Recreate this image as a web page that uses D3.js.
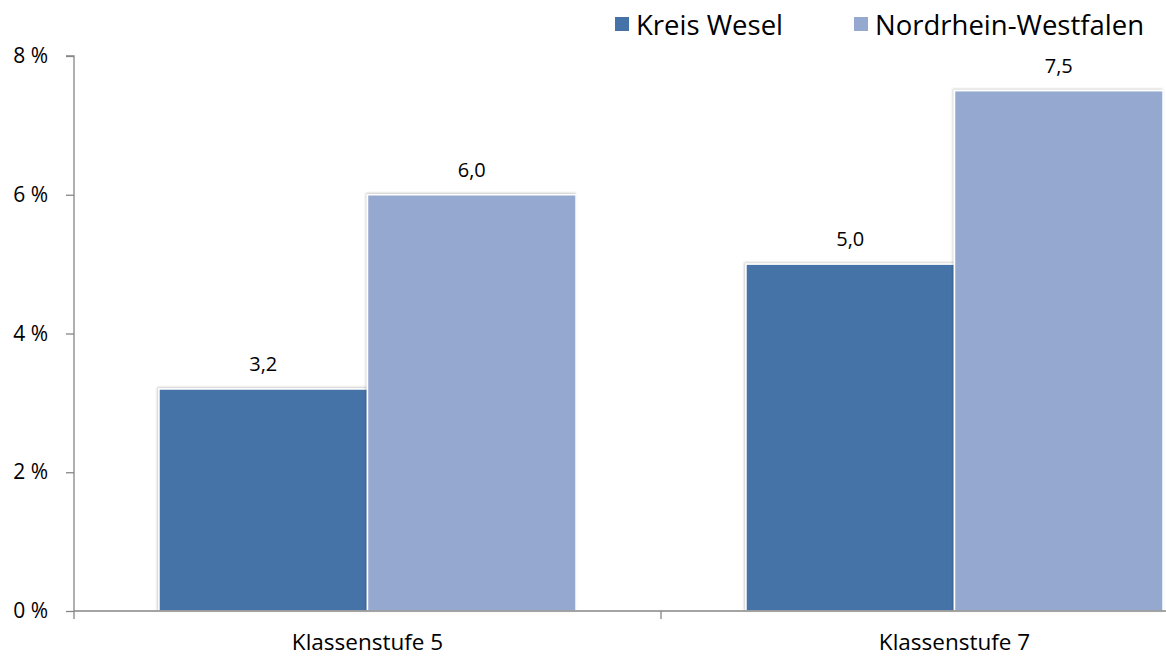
<!DOCTYPE html>
<html><head><meta charset="utf-8">
<script src="https://cdn.jsdelivr.net/npm/d3@7"></script>
<style>body{margin:0;background:#fff}svg{display:block;font-family:"Open Sans",sans-serif}</style>
</head><body><svg id="c" width="1166" height="657"></svg>
<script>
const categories = ["Klassenstufe 5", "Klassenstufe 7"];
const seriesNames = ["Kreis Wesel", "Nordrhein-Westfalen"];
const kreisWesel = [3.2, 5.0];
const nrw = [6.0, 7.5];
const yTicks = [0, 2, 4, 6, 8];
const colors = ["#4573A7", "#95A9D0"];

const svg = d3.select("#c");
const x0 = d3.scaleBand().domain(categories).range([74, 1248]).paddingInner(0).paddingOuter(0);
const x1 = d3.scaleBand().domain(seriesNames).range([0, x0.bandwidth()]).paddingInner(0.0).paddingOuter(0.4075);
const y = d3.scaleLinear().domain([0, 8]).range([611, 56]);

const defs = svg.append("defs");
const f = defs.append("filter").attr("id","sh").attr("x","-10%").attr("y","-10%").attr("width","120%").attr("height","120%");
f.append("feDropShadow").attr("dx",-1).attr("dy",-1).attr("stdDeviation",1.2).attr("flood-color","#000").attr("flood-opacity",0.22);

const data = categories.map((c,i)=>({cat:c, vals:[{s:seriesNames[0],v:kreisWesel[i]},{s:seriesNames[1],v:nrw[i]}]}));

// y axis
const yAxis = d3.axisLeft(y).tickValues(yTicks).tickSize(8).tickPadding(18).tickFormat(d=>d+" %");
const gy = svg.append("g").attr("transform","translate(74,0)").call(yAxis);
gy.selectAll("path,line").attr("stroke","#868686").attr("stroke-width",1.3);
gy.select(".domain").attr("d","M-8,56H0V611");
gy.selectAll("text").attr("font-size",21).attr("fill","#000").attr("font-family","'Open Sans',sans-serif");

// bars
const g = svg.selectAll("g.grp").data(data).join("g").attr("class","grp").attr("transform",d=>`translate(${x0(d.cat)},0)`);
g.selectAll("rect").data(d=>d.vals).join("rect")
  .attr("x",d=>x1(d.s)).attr("width",x1.bandwidth())
  .attr("y",d=>y(d.v)).attr("height",d=>y(0)-y(d.v))
  .attr("fill",(d,i)=>colors[i]).attr("stroke","#fff").attr("stroke-width",1.5)
  .attr("filter","url(#sh)");
g.selectAll("text").data(d=>d.vals).join("text")
  .attr("x",d=>x1(d.s)+x1.bandwidth()/2).attr("y",d=>y(d.v)-18)
  .attr("text-anchor","middle").attr("font-size",20).attr("fill","#000")
  .text(d=>d3.format(".1f")(d.v).replace(".",","));

// x axis
const xAxis = d3.axisBottom(x0).tickSize(0).tickPadding(0);
const gx = svg.append("g").attr("transform","translate(0,611)").call(xAxis);
gx.select(".domain").attr("d","M74,0H1166").attr("stroke","#868686").attr("stroke-width",1.3);
gx.selectAll(".tick text").attr("dy",null).attr("y",39).attr("font-size",22.5).attr("fill","#000").attr("font-family","'Open Sans',sans-serif");
// category boundary ticks
gx.selectAll("line.bt").data([74, x0(categories[1])]).join("line").attr("class","bt")
  .attr("x1",d=>d).attr("x2",d=>d).attr("y1",0).attr("y2",8).attr("stroke","#868686").attr("stroke-width",1.3);

// legend
const lx = [615, 854];
const lg = svg.selectAll("g.lg").data(seriesNames).join("g").attr("class","lg").attr("transform",(d,i)=>`translate(${lx[i]},0)`);
lg.append("rect").attr("x",0).attr("y",17).attr("width",14).attr("height",14).attr("fill",(d,i)=>colors[i]);
lg.append("text").attr("x",21).attr("y",35).attr("font-size",27.5).attr("fill","#000").text(d=>d);
</script></body></html>
